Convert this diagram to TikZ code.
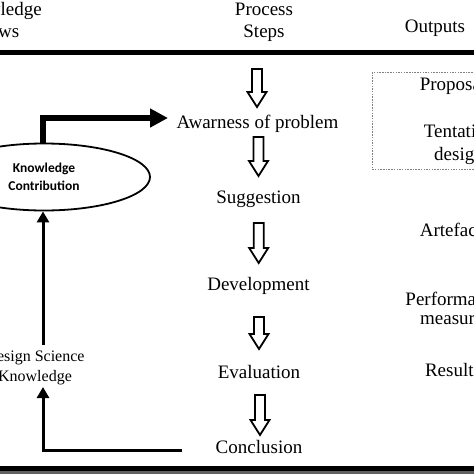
\documentclass[tikz,border=0pt]{standalone}
\usepackage{fontspec}
\setmainfont{Liberation Serif}
\newfontfamily\kcfont{Carlito}
\usetikzlibrary{arrows.meta,shapes.geometric}
\newcommand\hollowdown[3]{%
  \draw[hollowarr] (#1-5,#2) -- (#1+5,#2) -- (#1+5,#3-15) -- (#1+9.5,#3-15)
    -- (#1,#3) -- (#1-9.5,#3-15) -- (#1-5,#3-15) -- cycle;}
\tikzset{
  hollowarr/.style={draw=black, fill=white, line width=1.8pt, line join=miter},
  steptxt/.style={font=\fontsize{19}{22}\selectfont, anchor=base, inner sep=0pt},
  outtxt/.style={font=\fontsize{19}{20}\selectfont, anchor=base, inner sep=0pt},
  headtxt/.style={font=\fontsize{19}{22}\selectfont, align=center, inner sep=0pt},
  rule/.style={line width=4.5pt},
  thinarr/.style={line width=3pt, -{Triangle[length=11pt,width=12pt]}},
  thickarr/.style={line width=5.5pt, -{Triangle[length=18pt,width=18pt]}},
}
\begin{document}
\begin{tikzpicture}[x=1pt,y=-1pt]
\useasboundingbox (0,0) rectangle (474,474);
\clip (0,0) rectangle (474,474);
\fill[white] (0,0) rectangle (474,474);

% header
\node[headtxt, anchor=base] (kf1) at (-2,15) {Knowledge};
\node[headtxt, anchor=base] (kf2) at (-4,37) {Flows};
\node[headtxt, anchor=base] (ps1) at (264,15) {Process};
\node[headtxt, anchor=base] (ps2) at (264,37) {Steps};
\node[headtxt, anchor=base] (out) at (435,32) {Outputs};

% rules
\draw[rule] (0,52.5) -- (474,52.5);
\draw[rule] (0,468.7) -- (474,468.7);
\fill[black!62] (0,471) rectangle (474,474);

% process steps
\node[steptxt] (aw)   at (257.5,128) {Awarness of problem};
\node[steptxt] (sug)  at (258.5,203) {Suggestion};
\node[steptxt] (dev)  at (258.5,290) {Development};
\node[steptxt] (eva)  at (259,378) {Evaluation};
\node[steptxt] (conc) at (259,453) {Conclusion};

\hollowdown{257}{69}{107}
\hollowdown{258.5}{137}{176}
\hollowdown{258.7}{223}{263}
\hollowdown{259}{317}{349}
\hollowdown{260}{395}{435}

% outputs
\draw[gray, line width=0.9pt, dash pattern=on 1.5pt off 1.2pt] (372,72) rectangle (490,169);
\node[outtxt] (prop) at (453,90.7) {Proposal};
\node[outtxt] (ten1) at (459,137.5) {Tentative};
\node[outtxt] (ten2) at (459,160) {design};
\node[outtxt] (art)  at (451,236.7) {Artefact};
\node[outtxt] (perf1) at (454,305) {Performance};
\node[outtxt] (perf2) at (455.5,324) {measures};
\node[outtxt] (res)  at (453,376.7) {Results};

% left side
\node[draw, line width=1.8pt, ellipse, minimum width=212pt, minimum height=67pt, inner sep=0pt,
      align=center, font=\kcfont\bfseries\fontsize{13.5}{18}\selectfont] (kc) at (44,177)
      {Knowledge\\Contribution};
\node[align=center, inner sep=0pt, font=\fontsize{16}{20}\selectfont, anchor=base] (dsk1) at (35,361.7) {Design Science};
\node[inner sep=0pt, font=\fontsize{16}{20}\selectfont, anchor=base] (dsk2) at (35,381.7) {Knowledge};

\coordinate (tipA) at (168,118);
\coordinate (dskTop) at (43,345);
\coordinate (dskBot) at (43,387);
\coordinate (concEnd) at (182,450);

\draw[thickarr] ([xshift=-1pt]kc.north) |- (tipA);
\draw[thinarr] (dskTop) -- (kc.south -| dskTop);
\draw[thinarr] (concEnd) -| (dskBot);
\end{tikzpicture}
\end{document}
